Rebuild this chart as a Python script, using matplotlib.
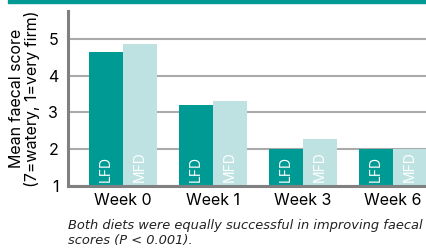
import matplotlib
matplotlib.use("Agg")
import matplotlib.pyplot as plt
from matplotlib.patches import Rectangle
import numpy as np

categories = ["Week 0", "Week 1", "Week 3", "Week 6"]
lfd = [4.63, 3.21, 2.0, 2.0]
mfd = [4.87, 3.30, 2.29, 2.0]
series_labels = ["LFD", "MFD"]
y_ticks = [1, 2, 3, 4, 5]
ylabel = "Mean faecal score\n(7=watery, 1=very firm)"
caption = "Both diets were equally successful in improving faecal\nscores (P < 0.001)."

teal = "#009a95"
light = "#bde2e1"

plt.rcParams['font.family'] = ['Inter', 'DejaVu Sans']

fig = plt.figure(figsize=(4.27, 2.49), dpi=100)
ax = fig.add_axes([68/427, 1-186/249, 1-68/427, (186-11)/249])

x = np.arange(len(categories))
w = 0.383
b1 = ax.bar(x - w/2, np.array(lfd) - 1, w, bottom=1, color=teal, zorder=3)
b2 = ax.bar(x + w/2, np.array(mfd) - 1, w, bottom=1, color=light, zorder=3)

for bars, lab in ((b1, series_labels[0]), (b2, series_labels[1])):
    for r in bars:
        ax.text(r.get_x() + r.get_width()/2, 1.1, lab, rotation=90,
                ha='center', va='bottom', color='white', fontsize=10, zorder=4)

ax.set_xlim(-0.611, 3.378)
ax.set_ylim(1, 1 + (186-11)/36.8)
ax.set_yticks(y_ticks)
ax.set_yticklabels([str(v) for v in y_ticks], fontsize=11.5)
ax.set_xticks(x)
ax.set_xticklabels(categories, fontsize=11.5)
ax.tick_params(axis='both', length=0, pad=5)
ax.tick_params(axis='y', pad=7)
ax.yaxis.grid(True, color='#aaaaaa', linewidth=1.5, zorder=0)
ax.set_axisbelow(True)
for s in ['top', 'right']:
    ax.spines[s].set_visible(False)
for s in ['left', 'bottom']:
    ax.spines[s].set_color('#808080')
    ax.spines[s].set_linewidth(2.2)
    ax.spines[s].set_zorder(5)

ax.set_ylabel(ylabel, fontsize=11.5, linespacing=1.0, labelpad=6)

fig.patches.append(Rectangle((8/427, 1-3.5/249), 1, 3.5/249, transform=fig.transFigure,
                             color=teal, zorder=10))

fig.text(68/427, 1-233/249, caption, fontsize=9.4, style='italic',
         family=['DejaVu Sans'], va='center', ha='left', linespacing=1.15,
         color='#222222')

fig.savefig("out.png", dpi=100)
